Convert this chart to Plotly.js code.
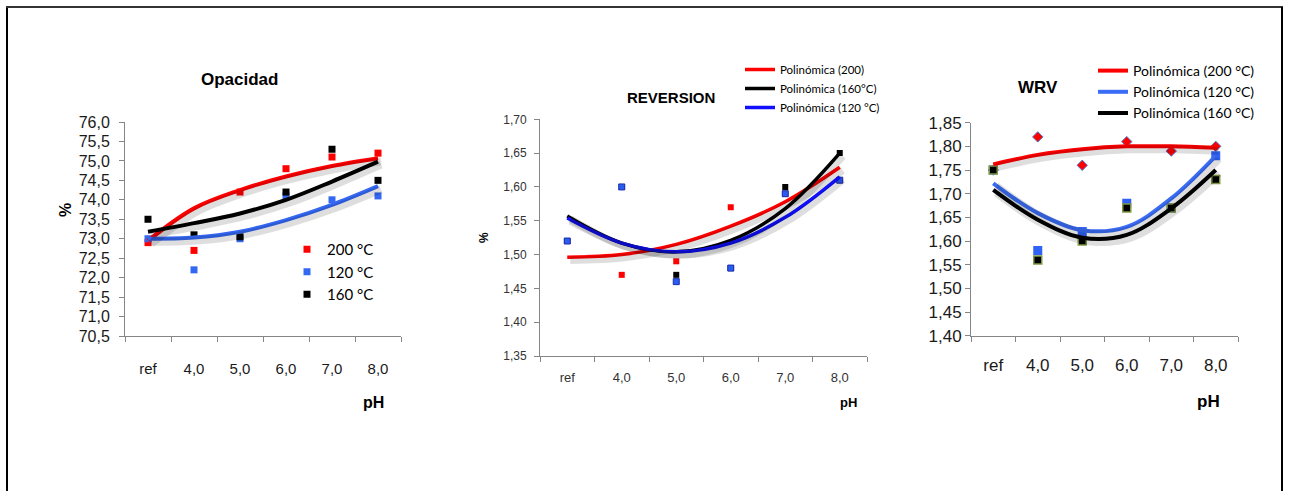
<!DOCTYPE html>
<html><head><meta charset="utf-8">
<script src="https://cdn.plot.ly/plotly-3.0.1.min.js"></script>
<style>body{margin:0;background:#fff}#chart{width:1289px;height:491px}</style>
</head><body><div id="chart"></div><script>
const categories = ['ref','4,0','5,0','6,0','7,0','8,0'];

// Opacidad (%)
const opac200 = [72.9, 72.7, 74.2, 74.8, 75.1, 75.2];
const opac120 = [73.0, 72.2, 73.0, 74.1, 74.0, 74.1];
const opac160 = [73.5, 73.1, 73.05, 74.2, 75.3, 74.5];
const opacTrend200 = [72.95, 73.78, 74.25, 74.6, 74.87, 75.07];
const opacTrend120 = [73.0, 73.03, 73.18, 73.48, 73.87, 74.35];
const opacTrend160 = [73.18, 73.4, 73.65, 74.0, 74.47, 74.98];

// Reversion (%)
const rev200 = [1.52, 1.47, 1.49, 1.57, 1.59, 1.61];
const rev160 = [1.52, 1.60, 1.47, 1.48, 1.60, 1.65];
const rev120 = [1.52, 1.60, 1.46, 1.48, 1.59, 1.61];
const revTrend200 = [1.496, 1.500, 1.515, 1.542, 1.578, 1.629];
const revTrend160 = [1.557, 1.517, 1.504, 1.521, 1.568, 1.650];
const revTrend120 = [1.554, 1.517, 1.504, 1.517, 1.555, 1.615];

// WRV
const wrv200 = [1.75, 1.82, 1.76, 1.81, 1.79, 1.80];
const wrv120 = [1.75, 1.58, 1.62, 1.68, 1.67, 1.78];
const wrv160 = [1.75, 1.56, 1.60, 1.67, 1.67, 1.73];
const wrvTrend200 = [1.762, 1.782, 1.794, 1.800, 1.800, 1.797];
const wrvTrend120 = [1.722, 1.659, 1.623, 1.630, 1.690, 1.780];
const wrvTrend160 = [1.708, 1.645, 1.607, 1.613, 1.669, 1.750];

const W = 1289, H = 491;
const px = v => v / W;
const py = v => 1 - v / H;

const RED = '#ff0000', BLUE1 = '#3468f2', BLUE2 = '#1010ff', BLACK = '#000000';
const AX = '#868686';
const FONT = 'Liberation Sans, Arial, sans-serif';
const LFONT = 'Lato, Liberation Sans, sans-serif';

const traces = [];
function trend(y, color, width, xa, ya, sxa, sya, name, legend, showleg) {
  traces.push({x: categories, y: y, xaxis: sxa, yaxis: sya, type: 'scatter', mode: 'lines',
    line: {color: 'rgba(0,0,0,0.13)', width: width + 4, shape: 'spline'}, showlegend: false, hoverinfo: 'skip'});
  traces.push({x: categories, y: y, xaxis: xa, yaxis: ya, type: 'scatter', mode: 'lines', name: name,
    line: {color: color, width: width, shape: 'spline'}, legend: legend, showlegend: showleg});
}
function pts(y, color, xa, ya, name, legend, showleg, symbol, size, lc, lw) {
  traces.push({x: categories, y: y, xaxis: xa, yaxis: ya, type: 'scatter', mode: 'markers', name: name,
    marker: {color: color, symbol: symbol || 'square', size: size || 7, line: {color: lc || color, width: lw || 0}},
    legend: legend, showlegend: showleg});
}

// Panel 1
pts(opac200, RED, 'x', 'y', '200 °C', 'legend', true);
pts(opac120, BLUE1, 'x', 'y', '120 °C', 'legend', true);
pts(opac160, BLACK, 'x', 'y', '160 °C', 'legend', true);
trend(opacTrend200, RED, 4, 'x', 'y', 'x4', 'y4', 'Polinómica (200 °C)', 'legend', false);
trend(opacTrend120, BLUE1, 4, 'x', 'y', 'x4', 'y4', 'Polinómica (120 °C)', 'legend', false);
trend(opacTrend160, BLACK, 4, 'x', 'y', 'x4', 'y4', 'Polinómica (160 °C)', 'legend', false);

// Panel 2
pts(rev200, RED, 'x2', 'y2', '200', 'legend2', false, 'square', 6);
pts(rev160, BLACK, 'x2', 'y2', '160', 'legend2', false, 'square', 6);
pts(rev120, '#2a5cf0', 'x2', 'y2', '120', 'legend2', false, 'square', 6, '#1a2fb0', 1);
trend(revTrend200, RED, 3.5, 'x2', 'y2', 'x5', 'y5', 'Polinómica (200)', 'legend2', true);
trend(revTrend160, BLACK, 3.5, 'x2', 'y2', 'x5', 'y5', 'Polinómica (160°C)', 'legend2', true);
trend(revTrend120, BLUE2, 3.5, 'x2', 'y2', 'x5', 'y5', 'Polinómica (120 °C)', 'legend2', true);

// Panel 3
pts(wrv200, RED, 'x3', 'y3', '200', 'legend3', false, 'diamond', 8, '#4a7fd0', 1);
pts(wrv120, '#2f62f5', 'x3', 'y3', '120', 'legend3', false, 'square', 9);
pts(wrv160, BLACK, 'x3', 'y3', '160', 'legend3', false, 'square', 8, '#7f9a45', 1.5);
trend(wrvTrend200, RED, 4, 'x3', 'y3', 'x6', 'y6', 'Polinómica (200 °C)', 'legend3', true);
trend(wrvTrend120, '#3a6cf5', 4, 'x3', 'y3', 'x6', 'y6', 'Polinómica (120 °C)', 'legend3', true);
trend(wrvTrend160, BLACK, 4, 'x3', 'y3', 'x6', 'y6', 'Polinómica (160 °C)', 'legend3', true);

function xaxis(d0, d1, anchor, fs, color, standoff) {
  return {type: 'category', domain: [px(d0), px(d1)], anchor: anchor, range: [-0.5, 5.5],
    showline: true, linecolor: AX, linewidth: 1, ticks: 'outside', tickson: 'boundaries', ticklen: 5,
    tickcolor: AX, showgrid: false, zeroline: false, tickfont: {family: FONT, size: fs, color: color},
    ticklabelstandoff: standoff, fixedrange: true};
}
function yaxis(t, b, anchor, r, dt, fmt, fs, color, standoff) {
  return {domain: [py(b), py(t)], anchor: anchor, range: r, dtick: dt, tickformat: fmt,
    showline: true, linecolor: AX, linewidth: 1, ticks: 'outside', ticklen: 5, tickcolor: AX,
    showgrid: false, zeroline: false, tickfont: {family: FONT, size: fs, color: color},
    ticklabelstandoff: standoff, fixedrange: true};
}
function shadowX(d0, d1, anchor) {
  return {type: 'category', domain: [px(d0 + 3), px(d1 + 3)], anchor: anchor, range: [-0.5, 5.5], visible: false, fixedrange: true};
}
function shadowY(t, b, anchor, r) {
  return {domain: [py(b + 3), py(t + 3)], anchor: anchor, range: r, visible: false, fixedrange: true};
}
function label(text, x, y, size, angle) {
  return {text: text, x: px(x), y: py(y), xref: 'paper', yref: 'paper', xanchor: 'center', yanchor: 'middle',
    showarrow: false, textangle: angle || 0, font: {family: FONT, size: size, color: '#000'}};
}

const r1 = [70.5, 76.0], r2 = [1.35, 1.70], r3 = [1.40, 1.85];
const layout = {
  width: W, height: H, margin: {l: 0, r: 0, t: 0, b: 0},
  paper_bgcolor: '#ffffff', plot_bgcolor: 'rgba(0,0,0,0)', separators: ',.',
  showlegend: true,
  xaxis: xaxis(125, 401, 'y', 15, '#1a1a1a', 19),
  yaxis: yaxis(122, 336, 'x', r1, 0.5, '.1f', 16, '#1a1a1a', 6),
  xaxis2: xaxis(540, 867, 'y2', 13, '#333333', 9),
  yaxis2: yaxis(119.3, 356, 'x2', r2, 0.05, '.2f', 12, '#333333', 5),
  xaxis3: xaxis(971, 1238, 'y3', 17, '#1a1a1a', 14),
  yaxis3: yaxis(122.7, 335.7, 'x3', r3, 0.05, '.2f', 17, '#1a1a1a', 0),
  xaxis4: shadowX(125, 401, 'y4'), yaxis4: shadowY(122, 336, 'x4', r1),
  xaxis5: shadowX(540, 867, 'y5'), yaxis5: shadowY(119.3, 356, 'x5', r2),
  xaxis6: shadowX(971, 1238, 'y6'), yaxis6: shadowY(122.7, 335.7, 'x6', r3),
  legend: {x: px(287), y: py(233), xanchor: 'left', yanchor: 'top', bgcolor: 'rgba(0,0,0,0)',
    font: {family: LFONT, size: 15, color: '#000'}},
  legend2: {x: px(740), y: py(55), xanchor: 'left', yanchor: 'top', bgcolor: 'rgba(0,0,0,0)',
    font: {family: LFONT, size: 11.5, color: '#000'}},
  legend3: {x: px(1093), y: py(55), xanchor: 'left', yanchor: 'top', bgcolor: 'rgba(0,0,0,0)',
    font: {family: LFONT, size: 14, color: '#000'}},
  annotations: [
    label('<b>Opacidad</b>', 239, 79, 17),
    label('<b>%</b>', 65, 210, 16, -90),
    label('<b>pH</b>', 373, 402, 16),
    label('<b>REVERSION</b>', 671, 97, 15),
    label('<b>%</b>', 484, 238, 12, -90),
    label('<b>pH</b>', 848, 402, 13),
    label('<b>WRV</b>', 1038, 88, 17),
    label('<b>pH</b>', 1208, 401, 17)
  ],
  shapes: [
    {type: 'line', xref: 'paper', yref: 'paper', x0: px(7), x1: px(7), y0: py(7), y1: py(495), line: {color: '#000', width: 2}},
    {type: 'line', xref: 'paper', yref: 'paper', x0: px(6), x1: px(1283), y0: py(7), y1: py(7), line: {color: '#333', width: 2}},
    {type: 'line', xref: 'paper', yref: 'paper', x0: px(1282), x1: px(1282), y0: py(7), y1: py(495), line: {color: '#000', width: 2}}
  ]
};
Plotly.newPlot('chart', traces, layout, {displayModeBar: false, staticPlot: true});
</script></body></html>
